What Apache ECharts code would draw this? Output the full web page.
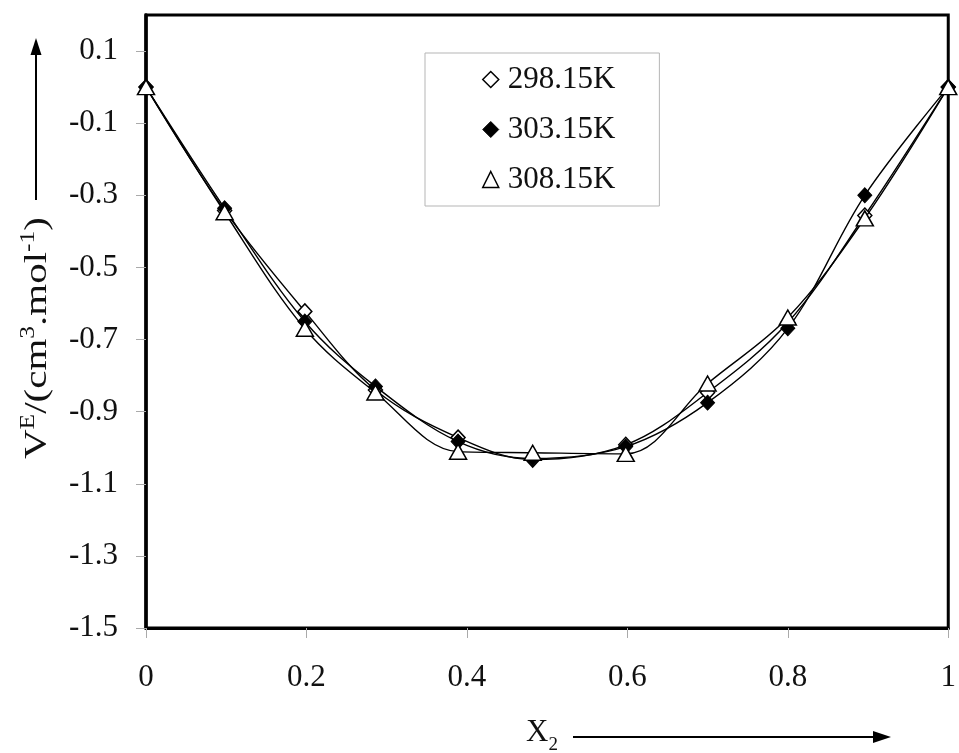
<!DOCTYPE html>
<html>
<head>
<meta charset="utf-8">
<script src="https://cdn.jsdelivr.net/npm/echarts@6/dist/echarts.min.js"></script>
<style>
  html, body { margin: 0; padding: 0; background: #ffffff; }
  #chart { width: 959px; height: 753px; }
</style>
</head>
<body>
<div id="chart"></div>
<script>
// Mole fraction of component 2 for each measured mixture
const x2Values = [0, 0.098, 0.198, 0.286, 0.389, 0.482, 0.598, 0.700, 0.800, 0.896, 1];

// Excess molar volume V^E (cm3 mol-1) at each temperature
const ve298 = [0, -0.342, -0.622, -0.840, -0.972, -1.033, -0.992, -0.847, -0.653, -0.356, 0];
const ve303 = [0, -0.336, -0.650, -0.830, -0.983, -1.030, -0.997, -0.875, -0.669, -0.300, 0];
const ve308 = [0, -0.347, -0.670, -0.847, -1.011, -1.014, -1.017, -0.822, -0.639, -0.364, 0];

const seriesNames = ['298.15K', '303.15K', '308.15K'];
const yTickValues = [-1.5, -1.3, -1.1, -0.9, -0.7, -0.5, -0.3, -0.1, 0.1];
const xTickValues = [0, 0.2, 0.4, 0.6, 0.8, 1];

const FONT = '"Liberation Serif", "DejaVu Serif", serif';

function pairs(ys) {
  return x2Values.map((x, i) => [x, ys[i]]);
}

const chart = echarts.init(document.getElementById('chart'), null, { renderer: 'canvas' });

const lineStyle = { color: '#000', width: 1.4 };

chart.setOption({
  animation: false,
  backgroundColor: '#ffffff',
  grid: {
    left: 146, right: 6, top: 15, bottom: 125,
    show: true, borderColor: '#000', borderWidth: 3, backgroundColor: '#ffffff'
  },
  xAxis: {
    type: 'value', min: 0, max: 1, interval: 0.2,
    axisLine: { show: true, onZero: false, lineStyle: { color: '#000', width: 3 } },
    axisTick: { show: true, inside: false, length: 10, customValues: xTickValues,
      lineStyle: { color: '#aaa', width: 1 } },
    axisLabel: { customValues: xTickValues, margin: 34, color: '#111',
      fontFamily: FONT, fontSize: 31, formatter: v => String(+v.toFixed(1)) },
    splitLine: { show: false }
  },
  yAxis: {
    type: 'value', min: -1.5, max: 0.2,
    axisLine: { show: true, onZero: false, lineStyle: { color: '#000', width: 3.5 } },
    axisTick: { show: true, inside: false, length: 10, customValues: yTickValues,
      lineStyle: { color: '#aaa', width: 1 } },
    axisLabel: { customValues: yTickValues, margin: 28, color: '#111',
      fontFamily: FONT, fontSize: 31, formatter: v => v.toFixed(1) },
    splitLine: { show: false }
  },
  legend: {
    orient: 'vertical',
    left: 425, top: 53,
    padding: [11, 44, 11, 57],
    itemGap: 19,
    itemWidth: 16, itemHeight: 16,
    borderColor: '#b5b5b5', borderWidth: 1,
    backgroundColor: '#ffffff',
    textStyle: { fontFamily: FONT, fontSize: 31, color: '#111', padding: [0, 0, 0, 4] },
    data: [
      { name: seriesNames[0], icon: 'diamond', itemStyle: { color: '#fff', borderColor: '#000', borderWidth: 1.5 } },
      { name: seriesNames[1], icon: 'diamond', itemStyle: { color: '#000', borderColor: '#000', borderWidth: 1 } },
      { name: seriesNames[2], icon: 'triangle', itemStyle: { color: '#fff', borderColor: '#000', borderWidth: 1.5 } }
    ]
  },
  series: [
    {
      name: seriesNames[0], type: 'line', smooth: 0.35, data: pairs(ve298),
      symbol: 'diamond', symbolSize: [14, 15], showAllSymbol: true,
      itemStyle: { color: '#fff', borderColor: '#000', borderWidth: 1.5 },
      lineStyle: lineStyle, z: 3
    },
    {
      name: seriesNames[1], type: 'line', smooth: 0.35, data: pairs(ve303),
      symbol: 'diamond', symbolSize: [14, 15], showAllSymbol: true,
      itemStyle: { color: '#000', borderColor: '#000', borderWidth: 1 },
      lineStyle: lineStyle, z: 4
    },
    {
      name: seriesNames[2], type: 'line', smooth: 0.35, data: pairs(ve308),
      symbol: 'triangle', symbolSize: [17, 15], showAllSymbol: true,
      itemStyle: { color: '#fff', borderColor: '#000', borderWidth: 1.5 },
      lineStyle: lineStyle, z: 5
    }
  ],
  graphic: [
    // y-axis title with upward arrow
    {
      type: 'text', x: 36, y: 338, rotation: Math.PI / 2, scaleX: 1.28,
      style: {
        text: '{b|V}{s|E}{b|/(cm}{s|3}{b|.mol}{s|-1}{b|)}',
        fill: '#111', align: 'center', verticalAlign: 'middle',
        rich: {
          b: { fontFamily: FONT, fontSize: 32, fill: '#111', verticalAlign: 'bottom', lineHeight: 36 },
          s: { fontFamily: FONT, fontSize: 20, fill: '#111', verticalAlign: 'bottom', padding: [0, 0, 15, 0] }
        }
      }
    },
    { type: 'line', shape: { x1: 36, y1: 200, x2: 36, y2: 52 }, style: { stroke: '#000', lineWidth: 2 } },
    { type: 'polygon', shape: { points: [[36, 38], [30.5, 55], [41.5, 55]] }, style: { fill: '#000' } },
    // x-axis title with rightward arrow
    {
      type: 'text', x: 526, y: 736,
      style: {
        text: '{b|X}{u|2}',
        fill: '#111', align: 'left', verticalAlign: 'middle',
        rich: {
          b: { fontFamily: FONT, fontSize: 31, fill: '#111', verticalAlign: 'bottom', padding: [0, 0, 6, 0] },
          u: { fontFamily: FONT, fontSize: 19, fill: '#111', verticalAlign: 'bottom' }
        }
      }
    },
    { type: 'line', shape: { x1: 573, y1: 737, x2: 876, y2: 737 }, style: { stroke: '#000', lineWidth: 2 } },
    { type: 'polygon', shape: { points: [[891, 737], [873, 731], [873, 743]] }, style: { fill: '#000' } }
  ]
});
</script>
</body>
</html>
